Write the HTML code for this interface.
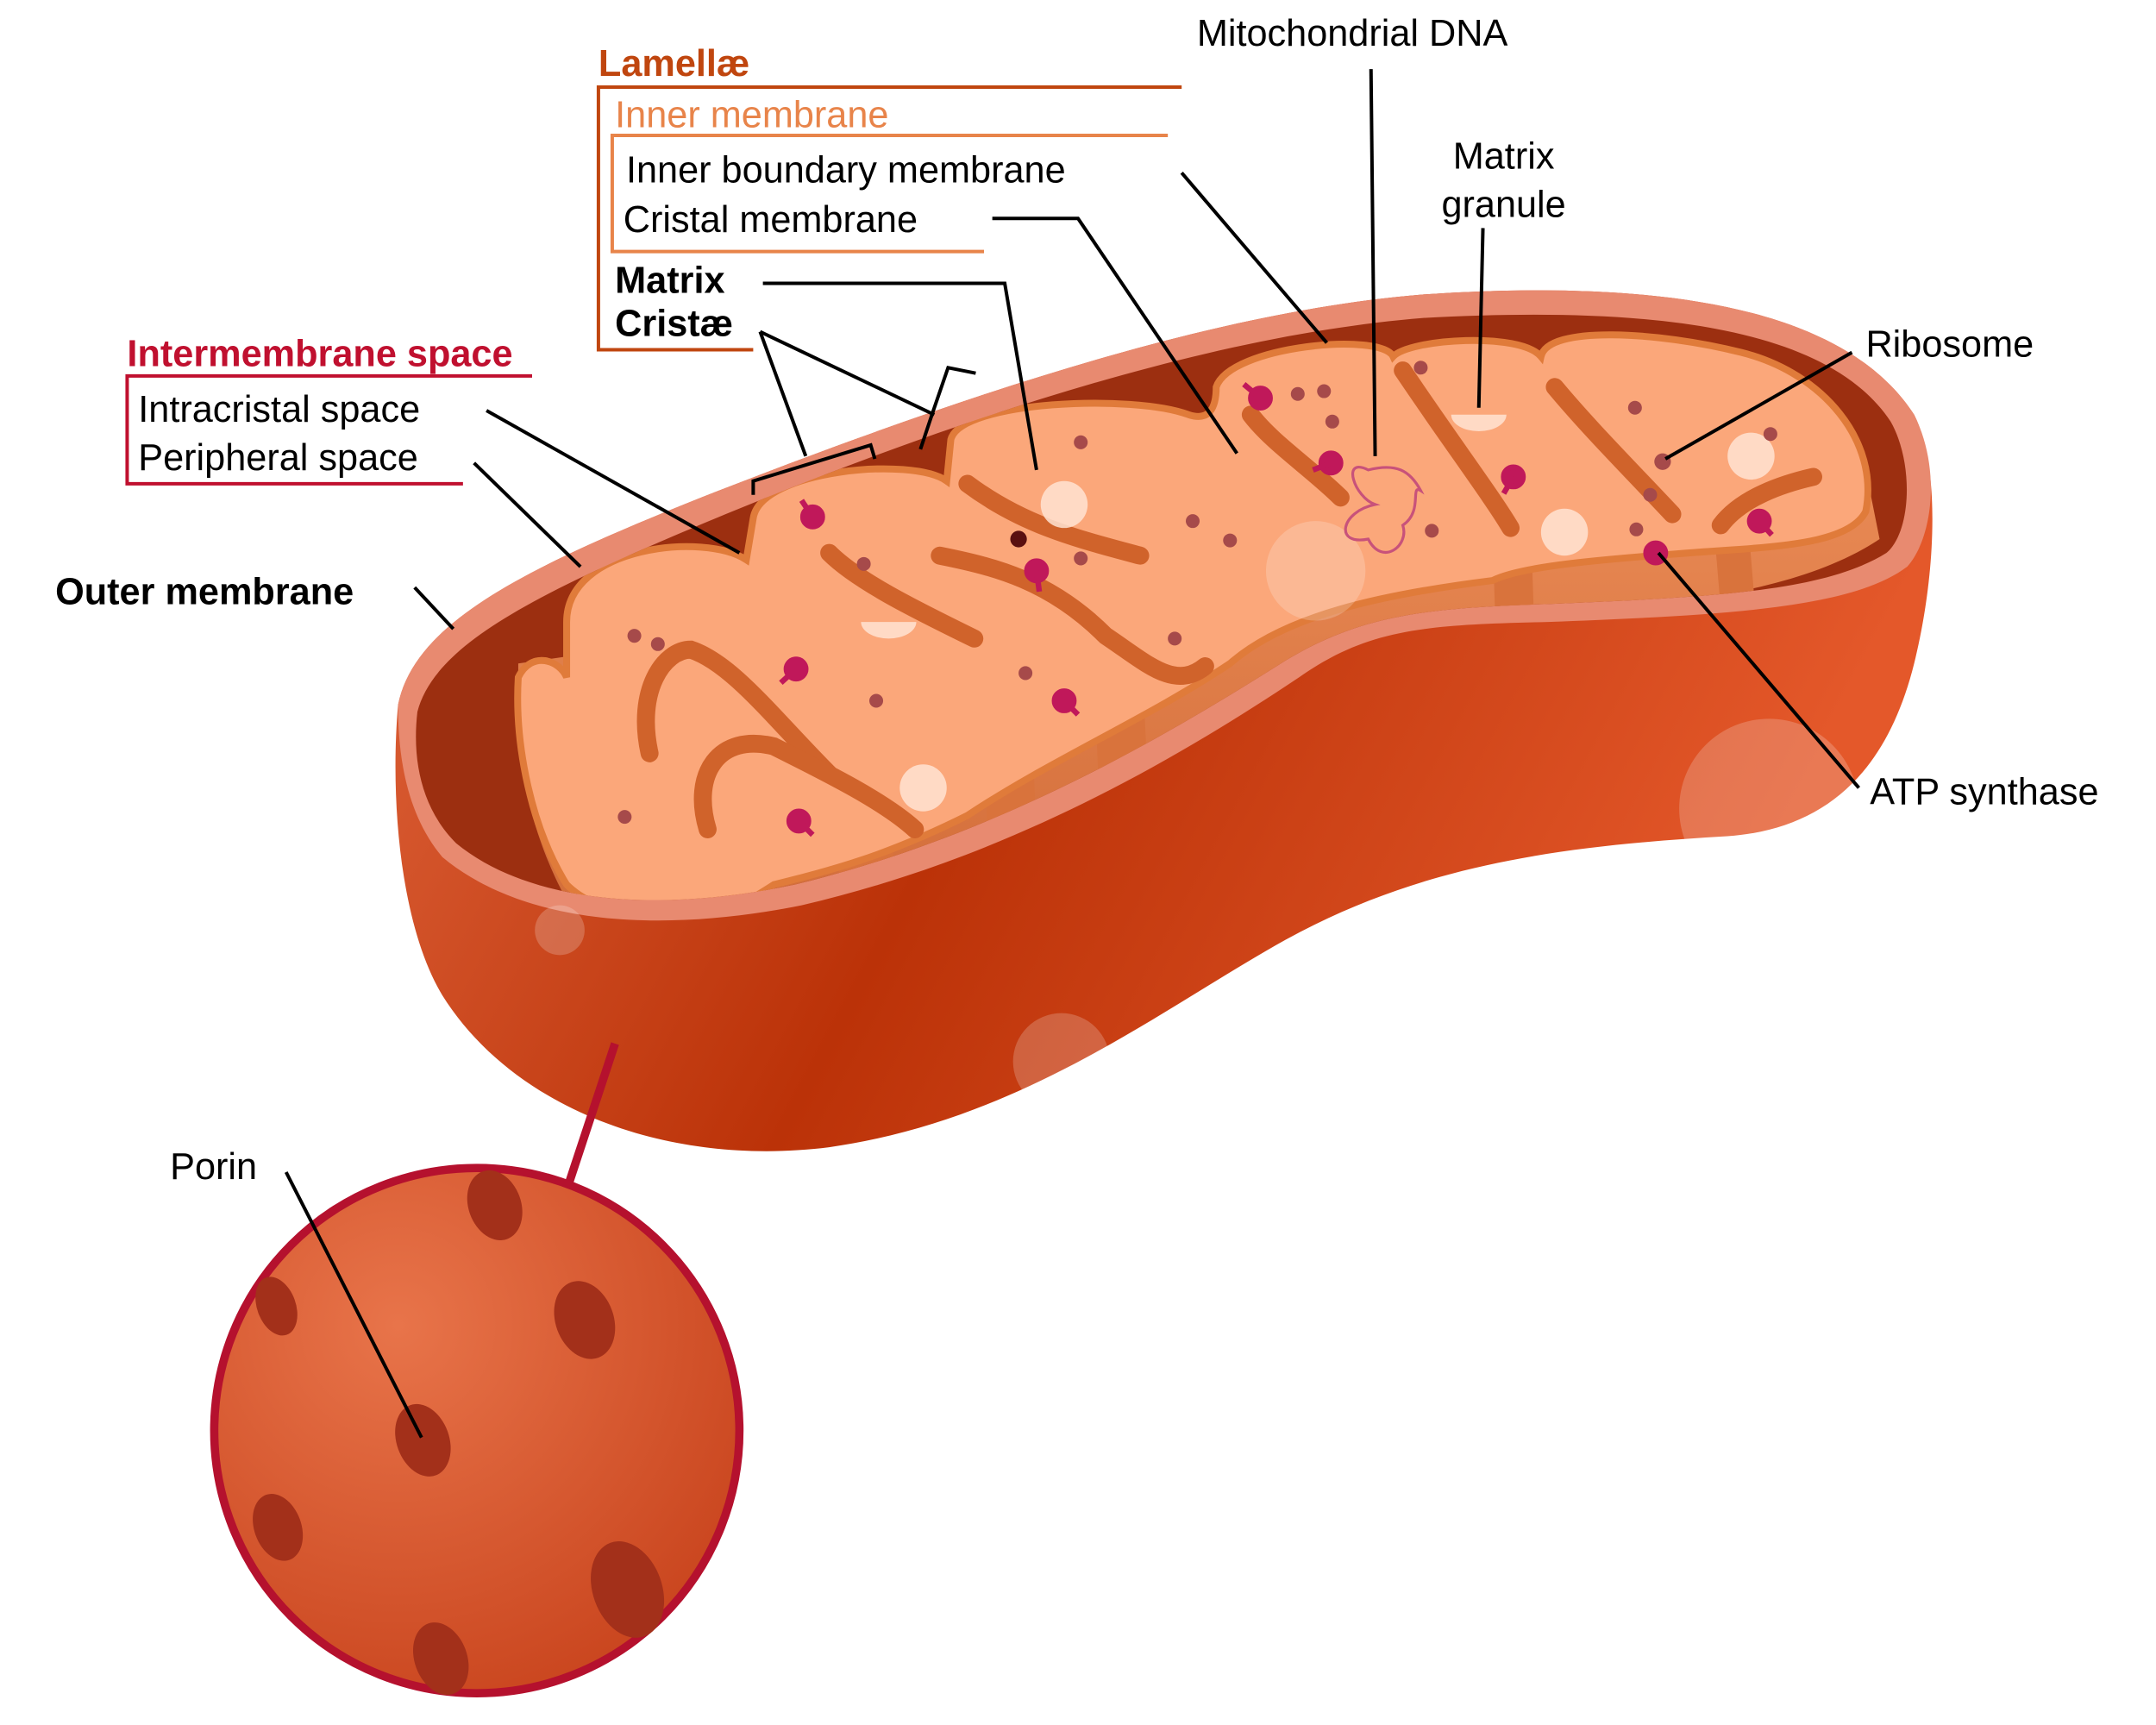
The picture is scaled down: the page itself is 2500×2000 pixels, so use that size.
<!DOCTYPE html>
<html><head><meta charset="utf-8"><style>
html,body{margin:0;padding:0;background:#fff}
svg{display:block}
text{font-family:"Liberation Sans",sans-serif;font-size:27px}
</style></head><body>
<svg width="2500" height="2000" viewBox="0 0 1560 1248" xmlns="http://www.w3.org/2000/svg">
<defs>
<linearGradient id="body" x1="0" y1="0" x2="1" y2="0.3">
<stop offset="0" stop-color="#e2683f"/><stop offset="0.5" stop-color="#bb3208"/><stop offset="1" stop-color="#e4582a"/>
</linearGradient>
<radialGradient id="por" cx="0.35" cy="0.3" r="0.8">
<stop offset="0" stop-color="#e8744a"/><stop offset="1" stop-color="#c8431c"/>
</radialGradient>
<linearGradient id="wall" x1="0" y1="0" x2="0" y2="1">
<stop offset="0" stop-color="#e98a55"/><stop offset="1" stop-color="#d06a36"/>
</linearGradient>
<clipPath id="cav"><path d="M302,515 C315,465 390,428 525,372 C700,300 880,242 1030,230 C1180,222 1320,232 1368,305 C1385,335 1383,385 1365,400 C1320,428 1240,432 1120,437 C1030,440 985,445 930,478 C840,535 720,605 575,640 C480,660 385,655 330,610 C305,585 298,550 302,515 Z"/></clipPath>
</defs>
<!-- body -->
<path d="M288,510 C300,450 380,410 520,355 C700,285 880,225 1030,213 C1180,203 1330,215 1385,300 C1405,340 1400,420 1385,480 C1365,560 1320,600 1250,605 C1130,612 1030,625 930,680 C840,730 740,810 600,830 C480,845 370,800 320,720 C290,670 282,580 288,510 Z" fill="url(#body)"/>
<!-- rim -->
<path d="M288,510 C300,450 380,410 520,355 C700,285 880,225 1030,213 C1180,203 1330,215 1385,300 C1405,340 1398,390 1380,410 C1340,440 1250,445 1120,450 C1030,452 990,455 940,490 C850,550 730,620 580,655 C480,675 380,670 320,620 C295,590 288,550 288,510 Z" fill="#e88a70"/>
<!-- cavity -->
<path d="M302,515 C315,465 390,428 525,372 C700,300 880,242 1030,230 C1180,222 1320,232 1368,305 C1385,335 1383,385 1365,400 C1320,428 1240,432 1120,437 C1030,440 985,445 930,478 C840,535 720,605 575,640 C480,660 385,655 330,610 C305,585 298,550 302,515 Z" fill="#9c2f10"/>
<g clip-path="url(#cav)">
<!-- matrix walls -->
<path d="M375,500 C370,560 395,640 430,680 L600,700 C700,650 850,560 950,480 L1090,445 C1200,440 1300,430 1360,390 L1350,340 L375,480 Z" fill="url(#wall)"/>
<g fill="#d9733c">
<path d="M500,580 L520,680 L560,680 L540,580 Z"/>
<path d="M600,560 L610,660 L650,650 L640,560 Z"/>
<path d="M710,500 L715,610 L750,600 L745,500 Z"/>
<path d="M790,450 L795,570 L830,555 L825,450 Z"/>
<path d="M1080,390 L1082,450 L1110,450 L1108,390 Z"/>
<path d="M1240,380 L1245,440 L1270,440 L1265,380 Z"/>
</g>
<!-- matrix top -->
<path d="M375,490 C385,470 405,478 410,490 L410,450 C410,395 510,385 540,405 L545,375 C550,340 660,330 685,348 L688,318 C695,290 820,285 860,300 C875,305 880,295 880,280 C890,250 1000,240 1008,258 C1020,245 1100,240 1115,258 C1120,235 1200,240 1260,255 C1320,270 1360,320 1350,370 C1340,390 1300,395 1250,398 C1150,405 1100,410 1080,420 C1000,430 930,445 890,480 C830,520 760,550 700,590 C640,620 600,630 560,640 L520,665 C470,668 430,660 410,640 C385,600 372,540 375,490 Z" fill="#fba77a" stroke="#e07b3a" stroke-width="5"/>
<!-- cristae grooves -->
<g fill="none" stroke="#d0632b" stroke-width="13" stroke-linecap="round">
<path d="M470,545 C460,500 480,470 500,470 C530,480 560,520 600,560"/>
<path d="M512,600 C500,560 520,530 560,540 C600,560 640,580 662,600"/>
<path d="M600,400 C620,420 660,440 705,462"/>
<path d="M680,402 C720,410 760,420 800,460 C830,480 850,500 872,482"/>
<path d="M700,350 C740,380 780,390 825,402"/>
<path d="M905,300 C920,320 950,340 970,360"/>
<path d="M1015,268 C1050,320 1080,360 1093,382"/>
<path d="M1125,280 C1150,310 1180,340 1210,372"/>
<path d="M1245,380 C1260,360 1290,350 1312,345"/>
</g>
</g>
<!-- highlights -->
<g fill="#ffe3d2" opacity="0.85">
<circle cx="770" cy="365" r="17"/><circle cx="668" cy="570" r="17"/><circle cx="1267" cy="330" r="17"/><circle cx="1132" cy="385" r="17"/>
<path d="M623,450 a20,12 0 0 0 40,0 Z"/><path d="M1050,300 a20,12 0 0 0 40,0 Z"/>
</g>
<g fill="#fff" opacity="0.2"><circle cx="952" cy="413" r="36"/><circle cx="1280" cy="585" r="65"/><circle cx="768" cy="768" r="35"/><circle cx="405" cy="673" r="18"/></g>
<!-- dots -->
<g fill="#a64a4a">
<circle cx="459" cy="460" r="5"/><circle cx="476" cy="466" r="5"/><circle cx="625" cy="408" r="5"/><circle cx="634" cy="507" r="5"/><circle cx="742" cy="487" r="5"/><circle cx="452" cy="591" r="5"/><circle cx="782" cy="320" r="5"/><circle cx="782" cy="404" r="5"/><circle cx="863" cy="377" r="5"/><circle cx="890" cy="391" r="5"/><circle cx="850" cy="462" r="5"/><circle cx="939" cy="285" r="5"/><circle cx="958" cy="283" r="5"/><circle cx="964" cy="305" r="5"/><circle cx="1028" cy="266" r="5"/><circle cx="1036" cy="384" r="5"/><circle cx="1183" cy="295" r="5"/><circle cx="1203" cy="334" r="6"/><circle cx="1194" cy="358" r="5"/><circle cx="1184" cy="383" r="5"/><circle cx="1281" cy="314" r="5"/>
<circle cx="737" cy="390" r="6" fill="#5a1010"/>
</g>
<g fill="#c0185a" stroke="#c0185a" stroke-width="4">
<circle cx="588" cy="374" r="7"/><line x1="588" y1="374" x2="580" y2="362"/>
<circle cx="750" cy="413" r="7"/><line x1="750" y1="413" x2="752" y2="428"/>
<circle cx="576" cy="484" r="7"/><line x1="576" y1="484" x2="565" y2="494"/>
<circle cx="770" cy="507" r="7"/><line x1="770" y1="507" x2="780" y2="517"/>
<circle cx="578" cy="594" r="7"/><line x1="578" y1="594" x2="588" y2="604"/>
<circle cx="912" cy="288" r="7"/><line x1="912" y1="288" x2="900" y2="278"/>
<circle cx="963" cy="335" r="7"/><line x1="963" y1="335" x2="950" y2="340"/>
<circle cx="1095" cy="345" r="7"/><line x1="1095" y1="345" x2="1088" y2="357"/>
<circle cx="1273" cy="377" r="7"/><line x1="1273" y1="377" x2="1282" y2="387"/>
<circle cx="1198" cy="400" r="7"/>
</g>
<path d="M990,340 C970,330 980,360 995,365 C970,370 965,395 990,390 C1000,410 1020,395 1015,380 C1030,370 1020,350 1028,355 C1020,340 1010,335 990,340 Z" fill="none" stroke="#c8527a" stroke-width="2"/>
<!-- porin -->
<line x1="445" y1="755" x2="412" y2="855" stroke="#b5112e" stroke-width="6"/>
<circle cx="345" cy="1035" r="190" fill="url(#por)" stroke="#b5112e" stroke-width="6"/>
<g fill="#a3301a">
<ellipse cx="358" cy="872" rx="19" ry="26" transform="rotate(-20 358 872)"/>
<ellipse cx="423" cy="955" rx="21" ry="29" transform="rotate(-20 423 955)"/>
<ellipse cx="200" cy="945" rx="14" ry="22" transform="rotate(-20 200 945)"/>
<ellipse cx="306" cy="1042" rx="19" ry="27" transform="rotate(-20 306 1042)"/>
<ellipse cx="201" cy="1105" rx="17" ry="25" transform="rotate(-20 201 1105)"/>
<ellipse cx="454" cy="1150" rx="25" ry="36" transform="rotate(-20 454 1150)"/>
<ellipse cx="319" cy="1200" rx="19" ry="27" transform="rotate(-20 319 1200)"/>
</g>
<!-- label boxes -->
<g fill="none" stroke-width="2.5">
<path d="M855,63 L433,63 L433,253 L545,253" stroke="#c0460f"/>
<path d="M845,98 L443,98 L443,182 L712,182" stroke="#e8844a"/>
<path d="M385,272 L92,272 L92,350 L335,350" stroke="#c0102f"/>
</g>
<!-- leader lines -->
<g fill="none" stroke="#000" stroke-width="2.5">
<path d="M855,125 L960,248"/>
<path d="M718,158 L780,158 L895,328"/>
<path d="M552,205 L727,205 L750,340"/>
<path d="M550,240 L583,330 M550,240 L676,300"/>
<path d="M545,358 L545,348 L630,322 L633,332"/>
<path d="M666,325 L675,298 L686,266 L706,270"/>
<path d="M352,297 L535,400"/>
<path d="M343,335 L420,410"/>
<path d="M300,425 L328,455"/>
<path d="M992,50 L995,330"/>
<path d="M1073,165 L1070,295"/>
<path d="M1340,255 L1205,332"/>
<path d="M1345,570 L1200,400"/>
<path d="M207,848 L305,1040"/>
</g>
<!-- text -->
<text x="433" y="55" fill="#c0460f" font-weight="bold">Lamellæ</text>
<text x="445" y="92" fill="#e8844a">Inner membrane</text>
<text x="453" y="132">Inner boundary membrane</text>
<text x="451" y="168">Cristal membrane</text>
<text x="445" y="212" font-weight="bold">Matrix</text>
<text x="445" y="243" font-weight="bold">Cristæ</text>
<text x="92" y="265" fill="#c0102f" font-weight="bold">Intermembrane space</text>
<text x="100" y="305">Intracristal space</text>
<text x="100" y="340">Peripheral space</text>
<text x="40" y="437" font-weight="bold">Outer membrane</text>
<text x="866" y="33">Mitochondrial DNA</text>
<text x="1088" y="122" text-anchor="middle">Matrix</text>
<text x="1088" y="157" text-anchor="middle">granule</text>
<text x="1350" y="258">Ribosome</text>
<text x="1353" y="582">ATP synthase</text>
<text x="123" y="853">Porin</text>
</svg>
</body></html>
